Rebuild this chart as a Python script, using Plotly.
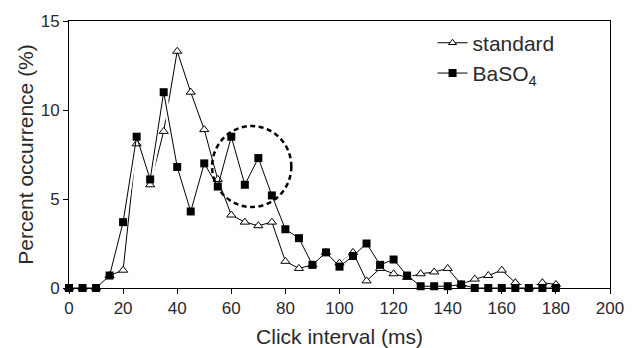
import plotly.graph_objects as go

intervals = list(range(0, 185, 5))
standard = [0, 0, 0, 0.7, 1.0, 8.1, 5.8, 8.8, 13.3, 11.0, 8.9, 6.1, 4.1, 3.7, 3.5, 3.7,
            1.5, 1.1, 1.3, 2.0, 1.4, 2.0, 0.4, 1.1, 0.8, 0.6, 0.8, 0.9, 1.1, 0.2,
            0.5, 0.7, 1.0, 0.3, 0.0, 0.3, 0.2]
baso4 = [0, 0, 0, 0.7, 3.7, 8.5, 6.1, 11.0, 6.8, 4.3, 7.0, 5.7, 8.5, 5.8, 7.3, 5.2,
         3.3, 2.8, 1.3, 2.0, 1.2, 1.8, 2.5, 1.3, 1.6, 0.7, 0.1, 0.1, 0.1, 0.2,
         0, 0, 0, 0, 0, 0, 0]
x_ticks = [0, 20, 40, 60, 80, 100, 120, 140, 160, 180, 200]
y_ticks = [0, 5, 10, 15]

font = "Liberation Sans, Arial, sans-serif"
ink = "#2a2a2a"

fig = go.Figure()
# standard line (drawn first so the BaSO4 line knocks it out)
fig.add_trace(go.Scatter(
    x=intervals, y=standard, mode="lines", showlegend=False, hoverinfo="skip",
    line=dict(color="black", width=1), cliponaxis=False,
))
# white halo under the BaSO4 line
fig.add_trace(go.Scatter(
    x=intervals, y=baso4, mode="lines", showlegend=False, hoverinfo="skip",
    line=dict(color="white", width=6), cliponaxis=False,
))
# standard markers
fig.add_trace(go.Scatter(
    x=intervals, y=standard, mode="markers", showlegend=False,
    marker=dict(symbol="triangle-up", size=8, color="white",
                line=dict(color="black", width=1)),
    cliponaxis=False,
))
# legend entry for standard
fig.add_trace(go.Scatter(
    x=[None], y=[None], mode="lines+markers", name="standard", legendrank=1,
    line=dict(color="black", width=1),
    marker=dict(symbol="triangle-up", size=7, color="white",
                line=dict(color="black", width=1)),
))
fig.add_trace(go.Scatter(
    x=intervals, y=baso4, mode="lines+markers", name="BaSO<sub>4</sub>", legendrank=2,
    line=dict(color="black", width=1),
    marker=dict(symbol="square", size=8, color="black"),
    cliponaxis=False,
))

fig.add_shape(type="circle", xref="x", yref="y", x0=52.9, x1=82.2, y0=4.55, y1=9.1,
              line=dict(color="black", width=2.5, dash="5px,3.5px"), layer="above")

fig.update_layout(
    width=633, height=340,
    margin=dict(l=61, r=31, t=13, b=60),
    paper_bgcolor="white", plot_bgcolor="white",
    font=dict(family=font, size=17, color=ink),
    showlegend=True,
    legend=dict(x=0.672, y=0.994, xanchor="left", yanchor="top",
                bgcolor="rgba(0,0,0,0)", font=dict(size=21),
                itemwidth=30, tracegroupgap=0),
)
fig.update_xaxes(
    range=[0, 200], tickvals=x_ticks, ticks="outside", ticklen=5, tickcolor="black",
    showline=True, linecolor="black", linewidth=1, mirror=True, showgrid=False,
    zeroline=False, tickfont=dict(size=17), automargin=False,
    title=dict(text="Click interval (ms)", font=dict(size=21), standoff=16),
)
fig.update_yaxes(
    range=[0, 15], tickvals=y_ticks, ticks="outside", ticklen=5, tickcolor="black",
    showline=True, linecolor="black", linewidth=1, mirror=True, showgrid=False,
    zeroline=False, tickfont=dict(size=17), automargin=False,
    title=dict(text="Percent occurrence (%)", font=dict(size=21), standoff=1),
)

fig.write_html("out.html")
